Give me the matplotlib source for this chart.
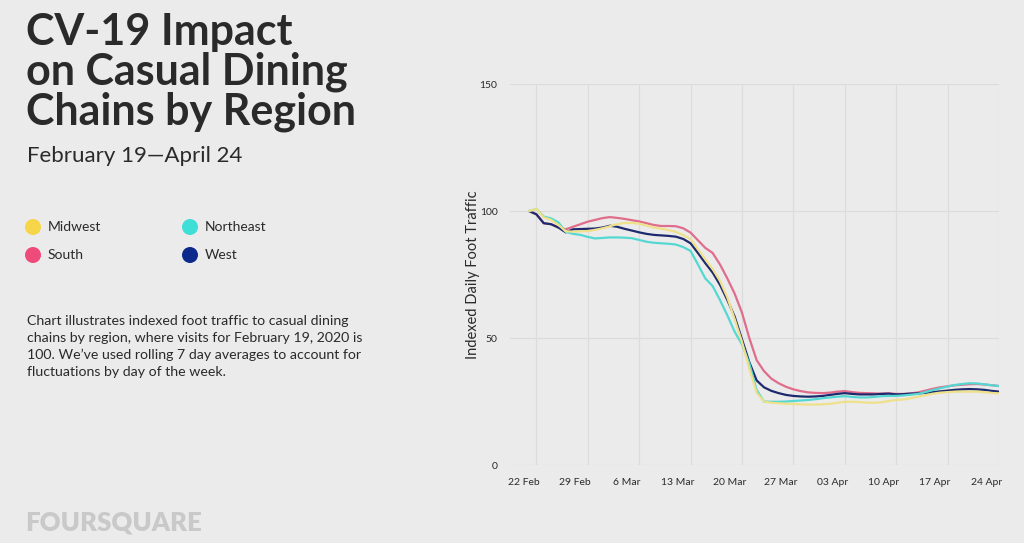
import numpy as np
import matplotlib
matplotlib.use("Agg")
import matplotlib.pyplot as plt

# ---------------- data ----------------
days = np.arange(65)  # daily points starting Feb 19

midwest = [100, 100.8, 97.5, 96.5, 94.5, 92.0, 91.9, 92.0, 92.1, 92.6,
           93.2, 94.0, 94.8, 95.3, 95.3, 95.0, 94.3, 93.5, 93.0, 92.5,
           91.8, 90.5, 89.0, 85.0, 81.0, 77.2, 72.5, 66.0, 57.5, 48.5,
           38.0, 28.5, 25.0, 24.5, 24.3, 24.1, 24.0, 23.9, 23.8, 23.8,
           23.9, 24.1, 24.5, 24.9, 24.9, 24.8, 24.6, 24.5, 24.7, 25.2,
           25.6, 25.8, 26.3, 26.9, 27.5, 28.1, 28.5, 28.7, 28.9, 28.9,
           28.9, 28.9, 28.7, 28.4, 28.2]

northeast = [100, 100.8, 97.8, 97.1, 95.5, 91.8, 91.0, 90.6, 89.8, 89.2,
             89.4, 89.6, 89.6, 89.5, 89.3, 88.6, 87.9, 87.5, 87.3, 87.1,
             86.8, 85.8, 84.3, 79.0, 73.5, 70.5, 65.0, 59.0, 52.5, 47.5,
             40.0, 29.5, 25.0, 24.9, 24.9, 25.0, 25.2, 25.4, 25.6, 25.9,
             26.3, 26.6, 26.9, 27.1, 26.8, 26.6, 26.6, 26.8, 27.1, 27.2,
             27.2, 27.4, 27.7, 28.0, 28.7, 29.5, 30.2, 30.9, 31.5, 31.9,
             32.2, 32.1, 31.8, 31.4, 31.1]

south = [100, 98.7, 95.2, 94.8, 93.5, 92.8, 93.8, 94.8, 95.8, 96.5,
         97.2, 97.6, 97.3, 96.9, 96.4, 95.9, 95.2, 94.5, 94.1, 94.1,
         94.0, 93.2, 91.5, 88.5, 85.5, 83.5, 79.0, 73.5, 67.5, 60.0,
         50.0, 41.3, 37.0, 34.0, 32.2, 30.8, 29.8, 29.1, 28.6, 28.4,
         28.3, 28.5, 28.9, 29.1, 28.7, 28.4, 28.3, 28.2, 28.1, 28.2,
         28.0, 28.0, 28.2, 28.6, 29.3, 30.0, 30.6, 31.0, 31.4, 31.6,
         31.8, 31.9, 31.7, 31.4, 31.1]

west = [100, 98.7, 95.2, 94.8, 93.5, 91.6, 92.8, 92.9, 93.0, 93.1,
        93.5, 94.2, 93.8, 93.0, 92.3, 91.6, 91.0, 90.6, 90.4, 90.2,
        89.9, 89.0, 87.3, 83.5, 79.5, 75.8, 71.0, 65.0, 58.5, 49.5,
        40.5, 33.3, 30.6, 29.2, 28.3, 27.6, 27.2, 27.0, 26.9, 27.0,
        27.2, 27.6, 28.0, 28.3, 28.0, 27.8, 27.8, 27.8, 28.0, 28.1,
        27.8, 27.9, 28.1, 28.2, 28.4, 28.7, 29.0, 29.3, 29.6, 29.8,
        29.9, 29.8, 29.6, 29.2, 28.9]

tick_labels = ["22 Feb", "29 Feb", "6 Mar", "13 Mar", "20 Mar",
               "27 Mar", "03 Apr", "10 Apr", "17 Apr", "24 Apr"]
y_ticks = [0, 50, 100, 150]

regions = ["Midwest", "Northeast", "South", "West"]
line_colors = {"Midwest": "#efe08a", "Northeast": "#55d8d2",
               "South": "#e06d8c", "West": "#1e2a6e"}
dot_colors = {"Midwest": "#f6d548", "Northeast": "#3fdfd8",
              "South": "#ee4a7a", "West": "#0c2a8c"}

# ---------------- figure ----------------
BG = "#ebebeb"
TXT = "#2a2a2a"
fig = plt.figure(figsize=(10.24, 5.43), dpi=100, facecolor=BG)
ax = fig.add_axes([0.498, 0.1436, 0.4775, 0.7017], facecolor=BG)

series = {"Midwest": midwest, "Northeast": northeast, "South": south, "West": west}
for name in ["South", "West", "Northeast", "Midwest"]:
    ax.plot(days, series[name], color=line_colors[name], lw=1.6,
            solid_capstyle="round", zorder=3)

ax.set_xlim(-2.6, 64)
ax.set_ylim(0, 150)

label_pos = [-0.7 + 7 * k for k in range(len(tick_labels))]
grid_pos = [1 + 7 * k for k in range(len(tick_labels))]
ax.set_xticks(label_pos)
ax.set_xticklabels(tick_labels)
ax.set_xticks(grid_pos, minor=True)
ax.set_yticks(y_ticks)
ax.set_yticklabels([str(v) for v in y_ticks])

ax.tick_params(axis="both", which="both", length=0, labelsize=7.5,
               labelcolor=TXT)
ax.tick_params(axis="x", pad=9)
ax.tick_params(axis="y", pad=9)
ax.grid(which="minor", axis="x", color="#dcdcdc", lw=0.9, zorder=0)
ax.grid(which="major", axis="y", color="#dcdcdc", lw=0.9, zorder=0)
ax.grid(which="major", axis="x", visible=False)
for s in ax.spines.values():
    s.set_visible(False)

ax.set_ylabel("Indexed Daily Foot Traffic", fontsize=10.5, color=TXT,
              family="Lato", labelpad=0)
for lab in ax.get_xticklabels() + ax.get_yticklabels():
    lab.set_family("Lato")

# ---------------- left-side text ----------------
fig.text(26 / 1024, 1 - 12 / 543, "CV-19 Impact\non Casual Dining\nChains by Region",
         fontsize=31, fontweight="bold", family="Lato", color=TXT,
         va="top", ha="left", linespacing=0.99)
fig.text(27 / 1024, 1 - 156 / 543, "February 19\u2014April 24", fontsize=16,
         family="Lato", color=TXT, va="center", ha="left")

leg_layout = [("Midwest", 33, 227), ("Northeast", 190, 227),
              ("South", 33, 255), ("West", 190, 255)]
for name, lx, ly in leg_layout:
    fig.patches.append(matplotlib.patches.Ellipse(
        (lx / 1024, 1 - ly / 543), 16 / 1024, 16 / 543,
        transform=fig.transFigure, facecolor=dot_colors[name],
        edgecolor="none"))
    fig.text((lx + 15) / 1024, 1 - ly / 543, name, fontsize=10,
             family="Lato", color=TXT, va="center", ha="left")

fig.text(27 / 1024, 1 - 315 / 543,
         "Chart illustrates indexed foot traffic to casual dining\n"
         "chains by region, where visits for February 19, 2020 is\n"
         "100. We\u2019ve used rolling 7 day averages to account for\n"
         "fluctuations by day of the week.",
         fontsize=10.2, family="Lato", color=TXT, va="top", ha="left",
         linespacing=1.47)

fig.text(25 / 1024, 1 - 522 / 543, "FOURSQUARE", fontsize=18.5,
         fontweight="heavy", family="Lato", color="#c9c9c9",
         va="center", ha="left")

fig.savefig("out.png", dpi=100, facecolor=BG)
